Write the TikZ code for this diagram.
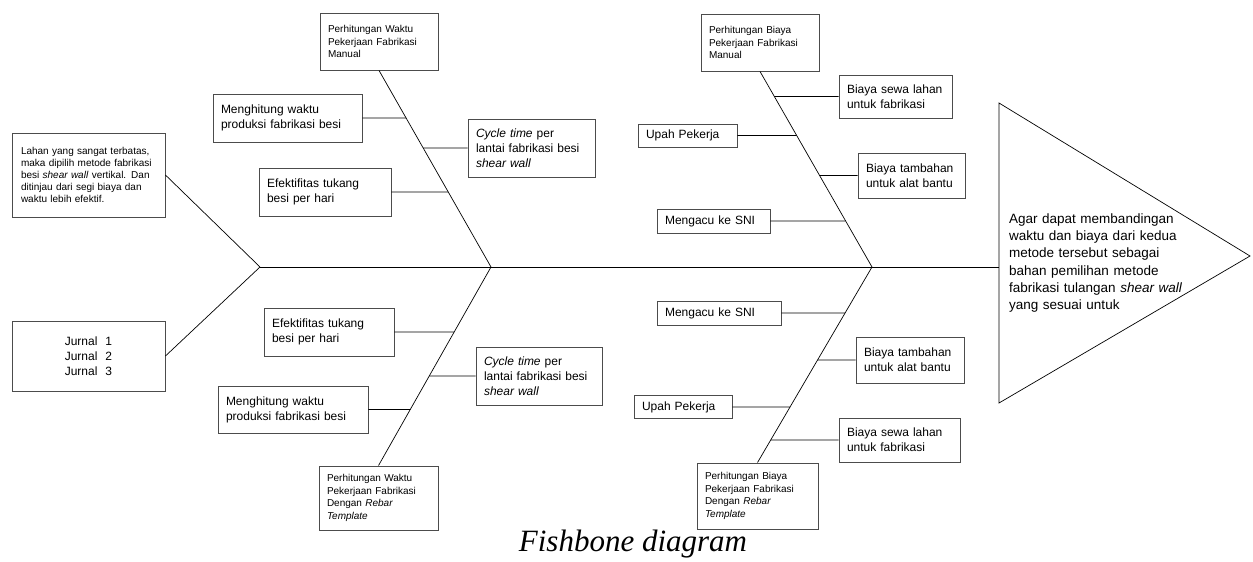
\documentclass[tikz,border=0pt]{standalone}
\usepackage{fontspec}
\setmainfont{Liberation Sans}
\newfontfamily\fbcapfont{Liberation Serif}
\usetikzlibrary{positioning, calc}
\tikzset{
  fbbox/.style={
    draw=black!70,
    line width=0.9pt,
    align=left,
    inner xsep=8pt,
    inner ysep=0pt,
    font=\fontsize{12}{15}\selectfont,
  },
  % heads of the bones and the note on the left: smaller text
  fbhead/.style={fbbox, font=\fontsize{10}{12.5}\selectfont},
  fbnote/.style={fbbox, inner xsep=9pt, font=\fontsize{10}{12}\selectfont},
  fbgoal/.style={align=left, inner sep=0pt, text width=182pt, font=\fontsize{13.5}{17.3}\selectfont},
  fbcap/.style={font=\fbcapfont\itshape\fontsize{31}{36}\selectfont},
  fbline/.style={line width=0.7pt, draw=black},
}

\begin{document}
\begin{tikzpicture}[x=1pt, y=-1pt]
  \useasboundingbox (0,0) rectangle (1253,562);

  % spine and head
  \coordinate (sp0) at (260,267);
  \coordinate (jm) at (491,267);
  \coordinate (jr) at (872,267);
  \coordinate (sp1) at (999,267);
  \coordinate (hdT) at (999,103);
  \coordinate (hdA) at (1250,256);
  \coordinate (hdB) at (999,403);
  \draw[fbline] (sp0) -- (sp1);
  \draw[fbline] (hdT) -- (hdA) -- (hdB) -- cycle;
  \node[fbgoal, anchor=west] (goal) at (1009,263) {Agar dapat membandingan\\
    waktu dan biaya dari kedua\\ metode tersebut sebagai\\ bahan pemilihan metode\\
    fabrikasi tulangan \textit{shear wall}\\ yang sesuai untuk};

  % tail
  \node[fbnote, text width=135pt, minimum height=84pt] (cause) at (88.5,175) {%
    Lahan yang sangat terbatas,\\ maka dipilih metode fabrikasi\\
    besi \textit{shear wall} vertikal. Dan\\ ditinjau dari segi biaya dan\\ waktu lebih efektif.};
  \node[fbbox, align=center, text width=137pt, minimum height=70pt] (jurnal) at (88.5,356) {%
    Jurnal\ \ 1\\ Jurnal\ \ 2\\ Jurnal\ \ 3};
  \draw[fbline] (cause.east) -- (sp0);
  \draw[fbline] (jurnal.east) -- (sp0);

  % waktu, manual
  \node[fbhead, text width=102pt, minimum height=57pt] (wManual) at (379,41.5) {%
    Perhitungan Waktu\\ Pekerjaan Fabrikasi\\ Manual};
  \node[fbbox, text width=133pt, minimum height=48pt] (wm1) at (287.5,118) {Menghitung waktu\\ produksi fabrikasi besi};
  \node[fbbox, text width=111pt, minimum height=58pt] (wm2) at (531.5,148) {\textit{Cycle time} per\\ lantai fabrikasi besi\\ \textit{shear wall}};
  \node[fbbox, text width=116pt, minimum height=48pt] (wm3) at (325,192) {Efektifitas tukang\\ besi per hari};
  \draw[fbline] (wManual.south) -- (jm);
  \draw[fbline] (wm1.east) -- (intersection of wManual.south--jm and wm1.east--wm1.west);
  \draw[fbline] (wm2.west) -- (intersection of wManual.south--jm and wm2.east--wm2.west);
  \draw[fbline] (wm3.east) -- (intersection of wManual.south--jm and wm3.east--wm3.west);

  % waktu, rebar template
  \node[fbhead, text width=103pt, minimum height=64pt] (wRebar) at (378.5,498) {%
    Perhitungan Waktu\\ Pekerjaan Fabrikasi\\ Dengan \textit{Rebar}\\ \textit{Template}};
  \node[fbbox, text width=114pt, minimum height=48pt] (wr1) at (329,332) {Efektifitas tukang\\ besi per hari};
  \node[fbbox, text width=110pt, minimum height=58pt] (wr2) at (539,376) {\textit{Cycle time} per\\ lantai fabrikasi besi\\ \textit{shear wall}};
  \node[fbbox, text width=134pt, minimum height=47pt] (wr3) at (293,409.5) {Menghitung waktu\\ produksi fabrikasi besi};
  \draw[fbline] (jm) -- (wRebar.north);
  \draw[fbline] (wr1.east) -- (intersection of wRebar.north--jm and wr1.east--wr1.west);
  \draw[fbline] (wr2.west) -- (intersection of wRebar.north--jm and wr2.east--wr2.west);
  \draw[fbline] (wr3.east) -- (intersection of wRebar.north--jm and wr3.east--wr3.west);

  % biaya, manual
  \node[fbhead, text width=102pt, minimum height=57pt] (bManual) at (760,42.5) {%
    Perhitungan Biaya\\ Pekerjaan Fabrikasi\\ Manual};
  \node[fbbox, text width=97pt, minimum height=43pt] (bm1) at (895.5,96.5) {Biaya sewa lahan\\ untuk fabrikasi};
  \node[fbbox, text width=83pt, minimum height=23pt] (bm2) at (687.5,135.5) {Upah Pekerja};
  \node[fbbox, text width=91pt, minimum height=45pt] (bm3) at (911.5,175.5) {Biaya tambahan\\ untuk alat bantu};
  \node[fbbox, text width=97pt, minimum height=24pt] (bm4) at (713.5,221) {Mengacu ke SNI};
  \draw[fbline] (bManual.south) -- (jr);
  \draw[fbline] (bm1.west) -- (intersection of bManual.south--jr and bm1.east--bm1.west);
  \draw[fbline] (bm2.east) -- (intersection of bManual.south--jr and bm2.east--bm2.west);
  \draw[fbline] (bm3.west) -- (intersection of bManual.south--jr and bm3.east--bm3.west);
  \draw[fbline] (bm4.east) -- (intersection of bManual.south--jr and bm4.east--bm4.west);

  % biaya, rebar template
  \node[fbhead, text width=105pt, minimum height=66pt] (bRebar) at (757.5,496) {%
    Perhitungan Biaya\\ Pekerjaan Fabrikasi\\ Dengan \textit{Rebar}\\ \textit{Template}};
  \node[fbbox, text width=108pt, minimum height=24pt] (br1) at (719,313) {Mengacu ke SNI};
  \node[fbbox, text width=92pt, minimum height=46pt] (br2) at (910,360) {Biaya tambahan\\ untuk alat bantu};
  \node[fbbox, text width=82pt, minimum height=23pt] (br3) at (683,407) {Upah Pekerja};
  \node[fbbox, text width=105pt, minimum height=44pt] (br4) at (899.5,440) {Biaya sewa lahan\\ untuk fabrikasi};
  \draw[fbline] (jr) -- (bRebar.north);
  \draw[fbline] (br1.east) -- (intersection of bRebar.north--jr and br1.east--br1.west);
  \draw[fbline] (br2.west) -- (intersection of bRebar.north--jr and br2.east--br2.west);
  \draw[fbline] (br3.east) -- (intersection of bRebar.north--jr and br3.east--br3.west);
  \draw[fbline] (br4.west) -- (intersection of bRebar.north--jr and br4.east--br4.west);

  \node[fbcap, anchor=base] (cap) at (633,551) {Fishbone diagram};
\end{tikzpicture}
\end{document}
